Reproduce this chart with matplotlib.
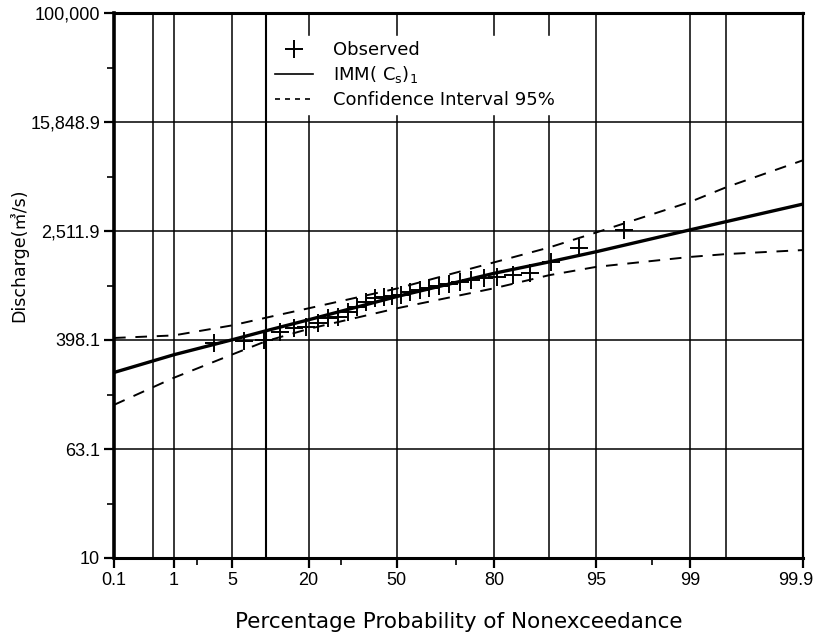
import numpy as np
import matplotlib
matplotlib.use("Agg")
import matplotlib.pyplot as plt
import matplotlib.transforms as mtransforms
from matplotlib.lines import Line2D
from matplotlib.ticker import FixedLocator, FixedFormatter, NullFormatter
from statistics import NormalDist

# observed annual discharges, plotted at their non-exceedance percentages
obs_prob = [3.2, 6.5, 9.7, 12.9, 16.1, 19.4, 22.6, 25.8, 29.0, 32.3,
            35.5, 38.7, 41.9, 45.2, 48.4, 51.6, 54.8, 58.1, 61.3, 64.5,
            67.7, 71.0, 74.2, 77.4, 80.6, 83.9, 87.1, 90.3, 93.5, 96.8]
obs_q = [379, 391, 398, 456, 488, 496, 530, 577, 587, 639,
         696, 757, 810, 824, 838, 852, 896, 927, 959, 992,
         1026, 1061, 1097, 1135, 1154, 1194, 1236, 1487, 1884, 2553]

# fitted frequency curve and its 95% confidence band
fit_prob = [0.1, 1, 5, 10, 20, 50, 80, 90, 95, 99, 99.5, 99.9]
fit_q = [230, 310, 400, 465, 560, 830, 1230, 1490, 1770, 2560, 2940, 3960]
ci_upper = [412, 430, 510, 580, 680, 950, 1480, 1900, 2450, 4100, 5250, 8300]
ci_lower = [133, 210, 312, 390, 480, 680, 955, 1190, 1370, 1620, 1700, 1820]

x_ticks = [0.1, 1, 5, 20, 50, 80, 95, 99, 99.9]
x_ticklabels = ['0.1', '1', '5', '20', '50', '80', '95', '99', '99.9']
x_minor = [2, 30, 70, 98]
x_grid = [0.5, 1, 5, 10, 20, 50, 80, 90, 95, 99, 99.5]
y_ticklabels = ['10', '63.1', '398.1', '2,511.9', '15,848.9', '100,000']

# skewed probability paper (Pearson III frequency factor, Wilson-Hilferty)
CS = 0.35
_nd = NormalDist()


def _prob_to_k(p):
    p = np.clip(np.asarray(p, dtype=float), 1e-4, 100 - 1e-4)
    z = np.array([_nd.inv_cdf(v / 100.0) for v in p.ravel()]).reshape(p.shape)
    return (2 / CS) * ((1 + CS * z / 6 - CS ** 2 / 36) ** 3 - 1)


def _k_to_prob(k):
    k = np.asarray(k, dtype=float)
    z = (6 / CS) * (np.cbrt(CS * k / 2 + 1) - 1) + CS / 6
    return np.array([_nd.cdf(v) * 100 for v in z.ravel()]).reshape(k.shape)


plt.rcParams['font.family'] = ['DejaVu Sans', 'Noto Sans CJK KR']

fig = plt.figure(figsize=(8.17, 6.38), dpi=100)
ax = fig.add_axes([114 / 817, 1 - 558 / 638, 689 / 817, 545 / 638])

ax.set_xscale('function', functions=(_prob_to_k, _k_to_prob))
ax.set_yscale('log')
ax.set_xlim(0.1, 99.9)
ax.set_ylim(10, 100000)

# grid
for p in x_grid:
    ax.axvline(p, color='black', lw=1.5 if p == 10 else 1.1, zorder=1)
for q in np.logspace(1, 5, 6)[1:-1]:
    ax.axhline(q, color='black', lw=1.1, zorder=1)

ax.plot(fit_prob, fit_q, color='black', lw=2.4, zorder=3)
ax.plot(fit_prob, ci_upper, color='black', lw=1.4, ls=(0, (6, 5)), zorder=3)
ax.plot(fit_prob, ci_lower, color='black', lw=1.4, ls=(0, (6, 5)), zorder=3)
ax.plot(obs_prob, obs_q, ls='none', marker='+', ms=13, mew=1.4,
        color='black', zorder=4)

# axes ticks
ax.xaxis.set_major_locator(FixedLocator(x_ticks))
ax.xaxis.set_major_formatter(FixedFormatter(x_ticklabels))
ax.xaxis.set_minor_locator(FixedLocator(x_minor))
ax.xaxis.set_minor_formatter(NullFormatter())
ax.yaxis.set_major_locator(FixedLocator(np.logspace(1, 5, 6)))
ax.yaxis.set_major_formatter(FixedFormatter(y_ticklabels))
ax.yaxis.set_minor_locator(FixedLocator(np.logspace(1.4, 4.6, 5)))
ax.yaxis.set_minor_formatter(NullFormatter())
ax.tick_params(axis='both', which='major', direction='out', length=7,
               width=1.6, labelsize=13, pad=3)
ax.tick_params(axis='both', which='minor', direction='out', length=5,
               width=1.2)
for lbl in ax.get_xticklabels() + ax.get_yticklabels():
    lbl.set_family('Liberation Sans')
# keep the last probability label inside the figure
last = ax.get_xticklabels()[-1]
last.set_transform(last.get_transform() + mtransforms.ScaledTranslation(
    -5 / 72, 0, fig.dpi_scale_trans))

for side, w in (('left', 2.6), ('bottom', 2.2), ('top', 2.2), ('right', 1.6)):
    ax.spines[side].set_linewidth(w)

ax.set_xlabel('Percentage Probability of Nonexceedance', fontsize=15.5)
ax.xaxis.set_label_coords(0.5, -0.1)
ax.set_ylabel('Discharge(㎥/s)', fontsize=12.5)
ax.yaxis.set_label_coords(-0.125, 0.556)

handles = [
    Line2D([], [], ls='none', marker='+', ms=13, mew=1.4, color='black'),
    Line2D([], [], color='black', lw=1.2),
    Line2D([], [], color='black', lw=1.2, ls=(0, (3, 3))),
]
labels = ['Observed', r'IMM( C$_\mathrm{s}$)$_1$', 'Confidence Interval 95%']
leg = ax.legend(handles, labels, loc='upper left',
                bbox_to_anchor=(0.213, 0.975), fontsize=13, frameon=True,
                facecolor='white', edgecolor='white', framealpha=1,
                fancybox=False, handlelength=2.1, handletextpad=1.1,
                labelspacing=0.3, borderpad=0.3)
leg.set_zorder(5)

fig.savefig('out.png', dpi=100)
